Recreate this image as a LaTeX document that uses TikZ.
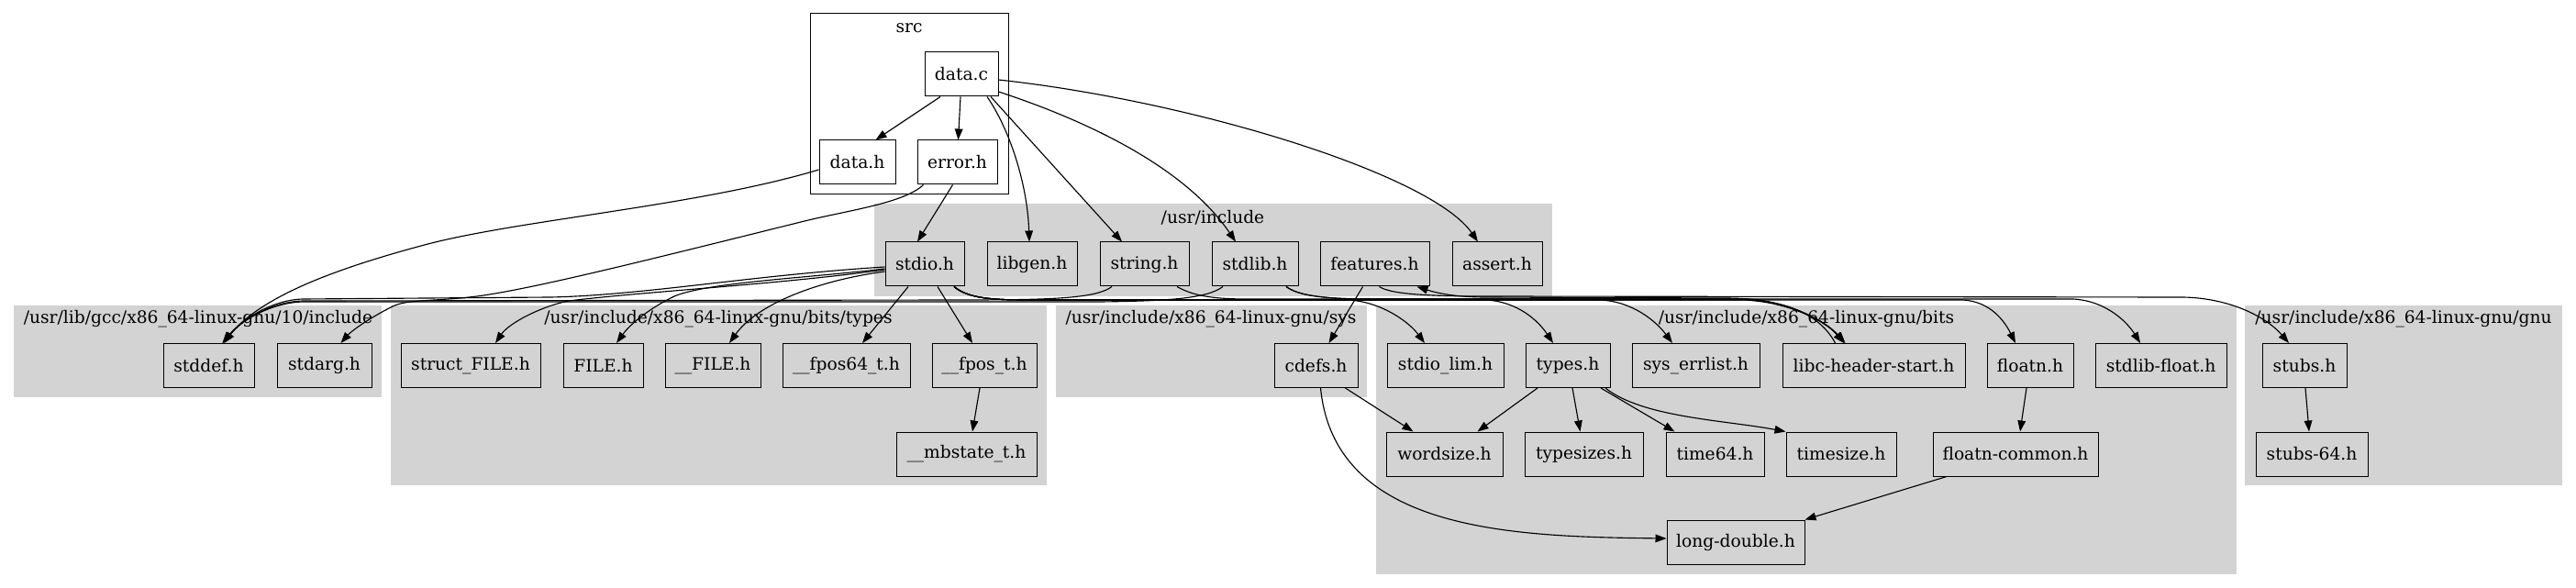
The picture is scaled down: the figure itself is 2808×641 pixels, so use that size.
\documentclass[tikz,border=0pt]{standalone}
\usepackage{fontspec}
\setmainfont{DejaVu Serif}
\usetikzlibrary{arrows.meta,calc}
\definecolor{lg}{HTML}{D3D3D3}
\begin{document}
\begin{tikzpicture}[x=0.75pt,y=-0.75pt,
  font=\fontsize{14pt}{16pt}\selectfont,
  file/.style={draw=black, line width=0.75pt, fill=lg, minimum height=36pt, inner sep=0pt},
  srcfile/.style={file, fill=white},
  clus/.style={fill=lg, draw=none},
  clab/.style={inner sep=0pt},
  edge/.style={draw=black, line width=0.85pt, -{Triangle[length=9pt,width=6.5pt]}}]
\useasboundingbox (0,0) rectangle (2808,641);
% clusters
\draw[line width=0.75pt, fill=white] (883,15) rectangle (1099,212);
\fill[clus] (953,222) rectangle (1692,323);
\fill[clus] (15,333) rectangle (416,433);
\fill[clus] (426,333) rectangle (1141,529);
\fill[clus] (1151,333) rectangle (1490,433);
\fill[clus] (1500,333) rectangle (2438,626);
\fill[clus] (2447,333) rectangle (2793,529);
\node[clab] (lsrc) at (991,31) {src};
\node[clab] (linc) at (1322,237) {/usr/include};
\node[clab] (lgcc) at (216,348) {/usr/lib/gcc/x86\_64-linux-gnu/10/include};
\node[clab] (ltypes) at (783,348) {/usr/include/x86\_64-linux-gnu/bits/types};
\node[clab] (lsys) at (1320,348) {/usr/include/x86\_64-linux-gnu/sys};
\node[clab] (lbits) at (1969,348) {/usr/include/x86\_64-linux-gnu/bits};
\node[clab] (lgnu) at (2620,348) {/usr/include/x86\_64-linux-gnu/gnu};
% nodes
\node[srcfile, minimum width=60pt] (datac) at (1048,81) {data.c};
\node[srcfile, minimum width=62.25pt] (datah) at (934.5,177) {data.h};
\node[srcfile, minimum width=65.25pt] (errorh) at (1043.5,177) {error.h};
\node[file, minimum width=64.5pt] (stdio) at (1008,288) {stdio.h};
\node[file, minimum width=73.5pt] (libgen) at (1125,288) {libgen.h};
\node[file, minimum width=72.75pt] (stringh) at (1247.5,288) {string.h};
\node[file, minimum width=70.5pt] (stdlib) at (1368,288) {stdlib.h};
\node[file, minimum width=89.25pt] (features) at (1498.5,288) {features.h};
\node[file, minimum width=73.5pt] (assert) at (1632,288) {assert.h};
\node[file, minimum width=74.25pt] (stddef) at (227.5,398.5) {stddef.h};
\node[file, minimum width=77.25pt] (stdarg) at (353.5,398.5) {stdarg.h};
\node[file, minimum width=114pt] (structFILE) at (513,398.5) {struct\_FILE.h};
\node[file, minimum width=65.25pt] (FILEh) at (657.5,398.5) {FILE.h};
\node[file, minimum width=78pt] (uFILE) at (777,398.5) {\_\_FILE.h};
\node[file, minimum width=104.25pt] (fposs) at (922.5,398.5) {\_\_fpos64\_t.h};
\node[file, minimum width=85.5pt] (fpost) at (1073,398.5) {\_\_fpos\_t.h};
\node[file, minimum width=68.25pt] (cdefs) at (1434.5,398.5) {cdefs.h};
\node[file, minimum width=95.25pt] (stdiolim) at (1575.5,398.5) {stdio\_lim.h};
\node[file, minimum width=69pt] (typesh) at (1709,398.5) {types.h};
\node[file, minimum width=104.25pt] (syserr) at (1848.5,398.5) {sys\_errlist.h};
\node[file, minimum width=149.25pt] (libc) at (2042.5,398.5) {libc-header-start.h};
\node[file, minimum width=70.5pt] (floatn) at (2213,398.5) {floatn.h};
\node[file, minimum width=107.25pt] (stdlibfloat) at (2355.5,398.5) {stdlib-float.h};
\node[file, minimum width=69pt] (stubs) at (2512,398.5) {stubs.h};
\node[file, minimum width=114.75pt] (mbstate) at (1053.5,495) {\_\_mbstate\_t.h};
\node[file, minimum width=95.25pt] (wordsize) at (1574.5,495) {wordsize.h};
\node[file, minimum width=96.75pt] (typesizes) at (1726.5,495) {typesizes.h};
\node[file, minimum width=80.25pt] (time64) at (1869.5,495) {time64.h};
\node[file, minimum width=90pt] (timesize) at (2007,495) {timesize.h};
\node[file, minimum width=135pt] (floatncommon) at (2197,495) {floatn-common.h};
\node[file, minimum width=91.5pt] (stubsS) at (2520,495) {stubs-64.h};
\node[file, minimum width=112.5pt] (longdouble) at (1892,591) {long-double.h};
% edges from data.c
\draw[edge] ($(datac.south)+(-23,0)$) -- ($(datah.north)+(20,0)$);
\draw[edge] ($(datac.south)+(-1,0)$) -- ($(errorh.north)+(1,0)$);
\draw[edge] ($(datac.south)+(28,0)$) .. controls (1100,140) and (1120,200) .. ($(libgen.north)+(-3,0)$);
\draw[edge] ($(datac.south)+(32,0)$) -- ($(stringh.north)+(-24.5,0)$);
\draw[edge] ($(datac.east)+(0,19)$) .. controls (1180,130) and (1290,180) .. ($(stdlib.north)+(-21,0)$);
\draw[edge] ($(datac.east)+(0,6)$) .. controls (1300,110) and (1560,190) .. ($(assert.north)+(-21,0)$);
% data.h, error.h
\draw[edge] ($(datah.west)+(0,8)$) .. controls (760,225) and (560,240) .. (459,268) .. controls (340,300) and (280,330) .. ($(stddef.north)+(15,0)$);
\draw[edge] ($(errorh.south)+(-37,0)$) .. controls (985,222) and (920,230) .. (873,242) .. controls (700,285) and (580,315) .. (520,323) .. controls (470,329) and (445,326) .. (428,334) .. controls (400,348) and (382,362) .. ($(stdarg.north)+(18,0)$);
\draw[edge] ($(errorh.south)+(-5,0)$) -- ($(stdio.north)+(-8,0)$);
% stdio.h left
\draw[edge] ($(stdio.west)+(0,3)$) .. controls (820,300) and (700,322) .. (600,324) -- (330,326) .. controls (295,327) and (262,350) .. ($(stddef.north)+(17,0)$);
\draw[edge] ($(stringh.south)+(-35.5,0)$) .. controls (1195,325) and (1150,327) .. (1050,327) -- (330,328) .. controls (295,329) and (262,350) .. ($(stddef.north)+(16,0)$);
\draw[edge] ($(stdlib.south)+(-35,0)$) .. controls (1315,326) and (1270,328) .. (1200,329) -- (330,329) .. controls (295,330) and (262,350) .. ($(stddef.north)+(15,0)$);
\draw[edge] ($(stdio.west)+(0,6)$) .. controls (850,310) and (700,318) .. (620,328) .. controls (590,334) and (555,352) .. ($(structFILE.north)+(27,0)$);
\draw[edge] ($(stdio.west)+(0,5)$) .. controls (880,303) and (770,308) .. (735,323) .. controls (710,335) and (688,352) .. ($(FILEh.north)+(14.5,0)$);
\draw[edge] ($(stdio.west)+(0,8)$) .. controls (890,306) and (825,332) .. ($(uFILE.north)+(18,0)$);
\draw[edge] ($(stdio.south)+(-18,0)$) -- ($(fposs.north)+(17.5,0)$);
\draw[edge] ($(stdio.south)+(14,0)$) -- ($(fpost.north)+(-13,0)$);
% stdio.h right
\draw[edge] ($(stdio.south)+(32,0)$) .. controls (1055,325) and (1080,327) .. (1120,327) -- (1470,327) .. controls (1505,329) and (1535,350) .. ($(stdiolim.north)+(-22.5,0)$);
\draw[edge] ($(stdio.south)+(32,0)$) .. controls (1055,325) and (1080,327) .. (1120,327) -- (1620,327) .. controls (1655,329) and (1677,350) .. ($(typesh.north)+(-16,0)$);
\draw[edge] ($(stdio.south)+(32,0)$) .. controls (1055,325) and (1080,327) .. (1120,327) -- (1745,327) .. controls (1780,329) and (1805,350) .. ($(syserr.north)+(-25.5,0)$);
\draw[edge] ($(stdio.south)+(32,0)$) .. controls (1055,325) and (1080,327) .. (1120,327) -- (1900,327) .. controls (1950,329) and (1990,350) .. ($(libc.north)+(-32.5,0)$);
\draw[edge] ($(stdio.south)+(32,0)$) .. controls (1055,325) and (1080,327) .. (1120,327) -- (2140,327) .. controls (2170,329) and (2185,350) .. ($(floatn.north)+(-16,0)$);
% string.h, stdlib.h right
\draw[edge] ($(stringh.south)+(35.5,0)$) .. controls (1300,322) and (1320,326) .. (1360,326) -- (1900,326) .. controls (1950,328) and (1990,350) .. ($(libc.north)+(-32,0)$);
\draw[edge] ($(stdlib.south)+(34,0)$) .. controls (1415,322) and (1440,325) .. (1480,326) -- (1900,326) .. controls (1950,328) and (1990,350) .. ($(libc.north)+(-31,0)$);
\draw[edge] ($(stdlib.south)+(34,0)$) .. controls (1415,322) and (1440,325) .. (1480,326) -- (2260,326) .. controls (2295,328) and (2318,350) .. ($(stdlibfloat.north)+(-22.5,0)$);
% features
\draw[edge] ($(libc.north)+(-42,0)$) .. controls (1985,345) and (1950,325) .. (1880,325) -- (1620,324) .. controls (1585,324) and (1565,319) .. ($(features.south)+(46,0)$);
\draw[edge] ($(features.south)+(-13,0)$) -- ($(cdefs.north)+(14,0)$);
\draw[edge] ($(features.south)+(5,0)$) .. controls (1515,320) and (1550,323) .. (1620,323) -- (2380,324) .. controls (2430,325) and (2470,345) .. ($(stubs.north)+(-17,0)$);
% lower rows
\draw[edge] ($(fpost.south)+(-5,0)$) -- ($(mbstate.north)+(6.5,0)$);
\draw[edge] ($(cdefs.south)+(32,0)$) -- ($(wordsize.north)+(-34,0)$);
\draw[edge] ($(cdefs.south)+(5,0)$) .. controls (1455,580) and (1650,585) .. ($(longdouble.west)+(0,-4)$);
\draw[edge] ($(typesh.south)+(-33,0)$) -- ($(wordsize.north)+(36,0)$);
\draw[edge] ($(typesh.south)+(5,0)$) -- ($(typesizes.north)+(-4,0)$);
\draw[edge] ($(typesh.south)+(36,0)$) -- ($(time64.north)+(-44,0)$);
\draw[edge] ($(typesh.south)+(41,0)$) .. controls (1790,455) and (1880,458) .. (timesize.north west);
\draw[edge] ($(floatn.south)+(-4,0)$) -- ($(floatncommon.north)+(5,0)$);
\draw[edge] ($(floatncommon.south)+(-75,0)$) -- (longdouble.north east);
\draw[edge] ($(stubs.south)+(1,0)$) -- ($(stubsS.north)+(-3,0)$);
\end{tikzpicture}
\end{document}
